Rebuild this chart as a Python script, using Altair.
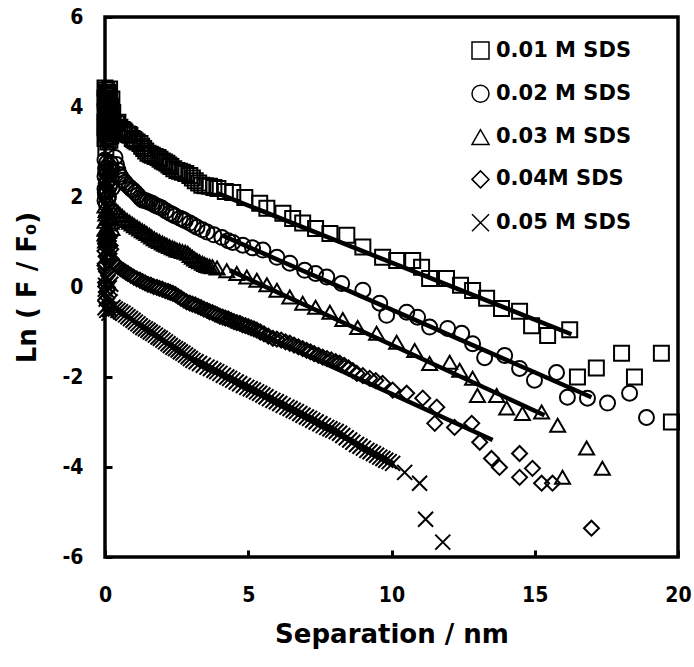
import altair as alt
import pandas as pd

series_names = ["0.01 M SDS", "0.02 M SDS", "0.03 M SDS", "0.04M SDS", "0.05 M SDS"]
shape_range = ["square", "circle", "triangle-up", "diamond", "M-1,-1L1,1M-1,1L1,-1"]

x_ticks = [0, 5, 10, 15, 20]
y_ticks = [-6, -4, -2, 0, 2, 4, 6]

# 0.01 M SDS (squares)
s1_x = [0.00, 0.05, 0.10, 0.02, 0.12, 0.00, 0.08, 0.15, 0.03, 0.18, 0.06, 0.20, 0.00, 0.10, 0.22,
        0.04, 0.25, 0.12, 0.00, 0.28, 0.08, 0.30, 0.02, 0.15, 0.33, 0.05, 0.20, 0.00, 0.10, 0.03,
        0.16, 0.07, 0.24, 0.01, 0.19, 0.11, 0.27, 0.04, 0.14, 0.09, 0.21, 0.00, 0.06, 0.13, 0.17,
        0.40, 0.45, 0.52, 0.60, 0.66, 0.70, 0.78, 0.83, 0.87, 0.95, 1.00, 1.05, 1.12, 1.22, 1.28,
        1.35, 1.42, 1.50, 1.58, 1.65, 1.75, 1.85, 1.92, 2.00, 2.08, 2.16, 2.23, 2.30, 2.40, 2.51,
        2.60, 2.70, 2.82, 2.96, 3.05, 3.15, 3.27, 3.38, 3.50, 3.65, 3.80, 3.94, 4.20, 4.46, 4.88,
        5.40, 5.65, 6.21, 6.55, 6.90, 7.35, 7.85, 8.44, 9.00, 9.69, 10.18, 10.74, 11.05, 11.33,
        11.92, 12.41, 12.83, 13.32, 13.84, 14.47, 14.89, 15.45, 16.22, 16.49, 17.15, 18.03, 18.48,
        19.42, 19.77]
s1_y = [4.42, 4.38, 4.33, 4.28, 4.24, 4.20, 4.15, 4.10, 4.06, 4.02, 3.98, 3.93, 3.90, 3.86, 3.82,
        3.78, 3.74, 3.70, 3.66, 3.62, 3.58, 3.55, 3.50, 3.46, 3.52, 3.40, 3.36, 3.30, 3.22, 3.10,
        4.40, 4.31, 4.18, 4.12, 4.00, 3.95, 3.88, 3.84, 3.76, 3.68, 3.60, 3.54, 3.44, 3.34, 3.26,
        3.62, 3.66, 3.55, 3.50, 3.47, 3.44, 3.40, 3.39, 3.37, 3.30, 3.28, 3.25, 3.22, 3.19, 3.13,
        3.08, 3.02, 2.97, 2.95, 2.93, 2.90, 2.88, 2.84, 2.80, 2.78, 2.75, 2.71, 2.68, 2.63, 2.59,
        2.57, 2.55, 2.52, 2.48, 2.42, 2.36, 2.31, 2.26, 2.25, 2.24, 2.21, 2.19, 2.12, 2.10, 1.99,
        1.86, 1.75, 1.64, 1.52, 1.42, 1.30, 1.19, 1.15, 0.89, 0.66, 0.59, 0.59, 0.44, 0.19,
        0.19, 0.04, -0.08, -0.25, -0.48, -0.54, -0.86, -1.08, -0.95, -2.00, -1.80, -1.47, -2.00,
        -1.47, -3.00]

# 0.02 M SDS (circles)
s2_x = [0.00, 0.06, 0.12, 0.02, 0.18, 0.08, 0.00, 0.22, 0.10, 0.04, 0.15, 0.00, 0.25, 0.08, 0.02,
        0.12, 0.00, 0.05, 0.20, 0.03, 0.14, 0.07, 0.17, 0.01, 0.10, 0.23,
        0.35, 0.40, 0.45, 0.50, 0.55, 0.63, 0.70, 0.75, 0.85, 0.92, 0.98, 1.06, 1.15, 1.23, 1.32,
        1.40, 1.48, 1.56, 1.64, 1.72, 1.80, 1.90, 1.99, 2.13, 2.27, 2.36, 2.45, 2.62, 2.72, 2.80,
        2.96, 3.08, 3.21, 3.40, 3.56, 3.80, 4.08, 4.30, 4.46, 4.81, 5.15, 5.51, 6.00, 6.45, 6.97,
        7.35, 7.74, 8.26, 9.00, 9.59, 9.83, 10.53, 10.91, 11.33, 11.96, 12.45, 12.83, 13.25, 13.95,
        14.47, 14.99, 15.76, 16.14, 16.84, 17.54, 18.31, 18.90]
s2_y = [2.82, 2.76, 2.70, 2.64, 2.58, 2.52, 2.46, 2.42, 2.36, 2.30, 2.24, 2.18, 2.20, 2.12, 2.06,
        2.00, 1.92, 1.84, 2.74, 2.56, 2.48, 2.34, 2.28, 2.10, 1.96, 2.62,
        2.88, 2.72, 2.60, 2.50, 2.45, 2.37, 2.32, 2.28, 2.22, 2.18, 2.15, 2.10, 2.04, 1.98, 1.93,
        1.92, 1.90, 1.88, 1.86, 1.83, 1.80, 1.78, 1.75, 1.69, 1.64, 1.61, 1.58, 1.53, 1.50, 1.47,
        1.42, 1.38, 1.33, 1.27, 1.22, 1.16, 1.10, 1.03, 0.99, 0.93, 0.87, 0.82, 0.66, 0.53, 0.37,
        0.30, 0.22, 0.08, -0.07, -0.36, -0.63, -0.56, -0.67, -0.89, -0.92, -1.03, -1.26, -1.57, -1.52,
        -1.81, -2.07, -1.90, -2.45, -2.47, -2.58, -2.36, -2.90]

# 0.03 M SDS (triangles)
s3_x = [0.00, 0.07, 0.14, 0.03, 0.20, 0.10, 0.00, 0.16, 0.05, 0.24, 0.12, 0.00, 0.08, 0.02,
        0.18, 0.04, 0.11, 0.22, 0.01, 0.09,
        0.30, 0.38, 0.45, 0.52, 0.60, 0.68, 0.77, 0.86, 0.95, 1.03, 1.12, 1.21, 1.30, 1.38, 1.46,
        1.55, 1.63, 1.72, 1.81, 1.90, 2.00, 2.08, 2.16, 2.25, 2.35, 2.43, 2.51, 2.60, 2.70, 2.80,
        2.89, 2.97, 3.05, 3.13, 3.21, 3.30, 3.40, 3.48, 3.56, 3.65, 3.75, 3.91, 4.25, 4.60, 4.95,
        5.30, 5.65, 6.00, 6.45, 6.90, 7.35, 7.85, 8.30, 8.82, 9.48, 10.18, 10.81, 11.33, 12.03,
        12.38, 12.83, 13.00, 13.67, 14.02, 14.57, 15.24, 15.80, 16.81, 17.36, 15.97]
s3_y = [1.80, 1.74, 1.68, 1.62, 1.58, 1.52, 1.46, 1.40, 1.34, 1.30, 1.24, 1.18, 1.10, 1.02,
        1.78, 1.70, 1.56, 1.44, 1.28, 1.06,
        1.75, 1.70, 1.66, 1.61, 1.57, 1.52, 1.48, 1.44, 1.40, 1.36, 1.33, 1.29, 1.25, 1.22, 1.19,
        1.15, 1.11, 1.07, 1.04, 1.01, 0.98, 0.95, 0.93, 0.90, 0.87, 0.85, 0.82, 0.81, 0.79, 0.77,
        0.75, 0.70, 0.66, 0.62, 0.59, 0.56, 0.53, 0.50, 0.48, 0.46, 0.45, 0.42, 0.36, 0.30, 0.22,
        0.15, 0.05, -0.07, -0.22, -0.36, -0.45, -0.56, -0.72, -0.90, -1.03, -1.23, -1.41, -1.70, -1.67,
        -1.85, -2.03, -2.41, -2.41, -2.69, -2.81, -2.78, -3.07, -3.58, -4.03, -4.23]

# 0.04M SDS (diamonds)
s4_x = [0.00, 0.06, 0.12, 0.02, 0.18, 0.08, 0.00, 0.14, 0.04, 0.22, 0.10, 0.00,
        0.16, 0.03, 0.20, 0.07, 0.11, 0.01,
        0.30, 0.38, 0.45, 0.54, 0.63, 0.72, 0.80, 0.90, 1.00, 1.11, 1.22, 1.31, 1.40, 1.50, 1.60,
        1.70, 1.81, 1.90, 2.00, 2.10, 2.20, 2.28, 2.37, 2.46, 2.55, 2.65, 2.75, 2.85, 2.96, 3.05,
        3.15, 3.25, 3.35, 3.45, 3.56, 3.65, 3.75, 3.84, 3.92, 4.01, 4.11, 4.20, 4.30, 4.40, 4.50,
        4.60, 4.71, 4.80, 4.90, 5.00, 5.10, 5.20, 5.30, 5.42, 5.55, 5.70, 5.86, 6.00, 6.15, 6.30,
        6.45, 6.60, 6.75, 6.90, 7.04, 7.17, 7.30, 7.45, 7.60, 7.75, 7.90, 8.05, 8.19, 8.35, 8.50,
        8.65, 8.79, 9.00, 9.24, 9.45, 9.69, 10.04, 10.53, 11.09, 11.58, 11.51, 12.20, 12.80, 13.08,
        13.49, 13.77, 14.47, 14.47, 14.92, 15.24, 15.62, 16.98]
s4_y = [1.15, 1.08, 1.02, 0.96, 0.92, 0.86, 0.80, 0.74, 0.68, 0.62, 0.56, 0.48,
        1.12, 1.00, 0.84, 0.70, 0.60, 0.52,
        0.55, 0.50, 0.45, 0.41, 0.37, 0.33, 0.30, 0.26, 0.22, 0.18, 0.15, 0.12, 0.09, 0.06, 0.04,
        0.01, -0.01, -0.03, -0.05, -0.08, -0.10, -0.12, -0.14, -0.17, -0.21, -0.25, -0.29, -0.33, -0.36, -0.38,
        -0.40, -0.43, -0.46, -0.49, -0.52, -0.55, -0.57, -0.60, -0.62, -0.65, -0.67, -0.69, -0.71, -0.74, -0.77,
        -0.79, -0.81, -0.84, -0.86, -0.88, -0.91, -0.93, -0.96, -1.00, -1.04, -1.09, -1.14, -1.16, -1.18, -1.22,
        -1.25, -1.29, -1.33, -1.37, -1.41, -1.44, -1.48, -1.52, -1.56, -1.59, -1.62, -1.66, -1.69, -1.74, -1.80,
        -1.86, -1.92, -1.97, -2.03, -2.08, -2.14, -2.29, -2.36, -2.47, -2.67, -3.03, -3.12, -3.03, -3.45,
        -3.81, -4.01, -3.70, -4.23, -4.03, -4.36, -4.36, -5.36]

# 0.05 M SDS (crosses)
s5_x = [0.00, 0.05, 0.10, 0.02, 0.15, 0.07, 0.00, 0.12, 0.04, 0.18, 0.09, 0.00, 0.06, 0.14,
        0.03, 0.11, 0.20, 0.01, 0.08, 0.16,
        0.28, 0.36, 0.45, 0.54, 0.63, 0.72, 0.80, 0.89, 0.98, 1.06, 1.15, 1.23, 1.32, 1.41, 1.50,
        1.58, 1.67, 1.76, 1.85, 1.93, 2.02, 2.11, 2.20, 2.28, 2.37, 2.46, 2.55, 2.63, 2.72, 2.81,
        2.90, 2.98, 3.07, 3.18, 3.30, 3.43, 3.56, 3.68, 3.80, 3.90, 4.01, 4.13, 4.25, 4.35, 4.46,
        4.58, 4.70, 4.83, 4.95, 5.07, 5.18, 5.29, 5.40, 5.51, 5.62, 5.74, 5.86, 5.98, 6.10, 6.22,
        6.35, 6.46, 6.57, 6.68, 6.80, 6.91, 7.03, 7.14, 7.25, 7.37, 7.50, 7.62, 7.74, 7.85, 7.95,
        8.07, 8.19, 8.30, 8.42, 8.54, 8.65, 8.78, 8.90, 9.02, 9.14, 9.25, 9.37, 9.48, 9.59, 9.70,
        9.80, 9.92, 10.04, 10.46, 10.98, 11.19, 11.79]
s5_y = [0.25, 0.18, 0.10, 0.04, -0.02, -0.08, -0.14, -0.20, -0.27, -0.33, -0.40, -0.46, -0.52, -0.58,
        0.20, 0.14, 0.06, -0.05, -0.24, -0.50,
        -0.45, -0.49, -0.52, -0.55, -0.58, -0.62, -0.66, -0.70, -0.74, -0.78, -0.82, -0.86, -0.90, -0.93, -0.96,
        -1.00, -1.03, -1.07, -1.11, -1.14, -1.18, -1.22, -1.26, -1.30, -1.34, -1.37, -1.40, -1.44, -1.47, -1.51,
        -1.55, -1.59, -1.63, -1.66, -1.70, -1.74, -1.78, -1.81, -1.85, -1.88, -1.92, -1.96, -2.00, -2.03, -2.07,
        -2.11, -2.15, -2.19, -2.23, -2.26, -2.29, -2.33, -2.36, -2.40, -2.44, -2.48, -2.52, -2.55, -2.59, -2.63,
        -2.67, -2.70, -2.74, -2.77, -2.81, -2.85, -2.89, -2.92, -2.96, -3.00, -3.04, -3.08, -3.12, -3.15, -3.18,
        -3.21, -3.25, -3.30, -3.35, -3.40, -3.45, -3.50, -3.54, -3.58, -3.63, -3.66, -3.70, -3.74, -3.78, -3.81,
        -3.85, -3.88, -3.92, -4.12, -4.36, -5.16, -5.67]

# linear fits (start, end)
fit_x = [[3.94, 16.28], [4.08, 16.98], [4.36, 15.34], [4.11, 13.53], [4.46, 10.10]]
fit_y = [[2.08, -1.05], [1.15, -2.45], [0.37, -2.85], [-0.66, -3.40], [-2.07, -3.93]]

rows = []
for name, xs, ys in zip(series_names, [s1_x, s2_x, s3_x, s4_x, s5_x], [s1_y, s2_y, s3_y, s4_y, s5_y]):
    for a, b in zip(xs, ys):
        rows.append({"x": a, "y": b, "series": name})
df = pd.DataFrame(rows)

frows = []
for name, xs, ys in zip(series_names, fit_x, fit_y):
    for a, b in zip(xs, ys):
        frows.append({"x": a, "y": b, "series": name})
fdf = pd.DataFrame(frows)

x_scale = alt.Scale(domain=[0, 20], nice=False, zero=False)
y_scale = alt.Scale(domain=[-6, 6], nice=False, zero=False)

label_font = "DejaVu Sans Condensed, DejaVu Sans"

x_axis = alt.Axis(values=x_ticks, title="Separation / nm", grid=False, domain=False,
                  tickSize=7, tickWidth=3, tickColor="black", offset=-7, labelPadding=27,
                  labelFont=label_font, labelFontSize=21, labelFontWeight="bold", labelColor="black",
                  labelExpr="'' + datum.value", labelFlush=False, titleY=71.5)
y_axis = alt.Axis(values=y_ticks, title="Ln ( F / F\u2080)", grid=False, domain=False,
                  tickSize=7, tickWidth=3, tickColor="black", offset=-7, labelPadding=22,
                  labelFont=label_font, labelFontSize=21, labelFontWeight="bold", labelColor="black",
                  labelExpr="'' + datum.value", labelFlush=False, titleX=-71.5)

points = alt.Chart(df).mark_point(filled=False, color="black", strokeWidth=2.0, size=225, opacity=1).encode(
    x=alt.X("x:Q", scale=x_scale, axis=x_axis),
    y=alt.Y("y:Q", scale=y_scale, axis=y_axis),
    shape=alt.Shape("series:N", scale=alt.Scale(domain=series_names, range=shape_range),
                    legend=alt.Legend(title=None, orient="none", legendX=365, legendY=23, padding=0,
                                      labelFont="DejaVu Sans", labelFontSize=21, labelFontWeight="bold",
                                      labelColor="black", symbolSize=289, symbolStrokeWidth=1.5,
                                      symbolStrokeColor="black", symbolOpacity=1, rowPadding=20.3,
                                      labelOffset=5)),
)

lines = alt.Chart(fdf).mark_line(color="black", strokeWidth=4.5).encode(
    x=alt.X("x:Q", scale=x_scale),
    y=alt.Y("y:Q", scale=y_scale),
    detail="series:N",
)

chart = alt.layer(points, lines).properties(
    width=573, height=540,
    padding={"left": 105, "top": 17, "right": 16, "bottom": 110},
    autosize="none",
).configure_view(
    stroke="black", strokeWidth=3.5
).configure_axis(
    titleFont="DejaVu Sans", titleFontSize=26, titleFontWeight="bold", titleColor="black",
)

chart.save("out.html", embed_options={"renderer": "svg", "actions": False})
